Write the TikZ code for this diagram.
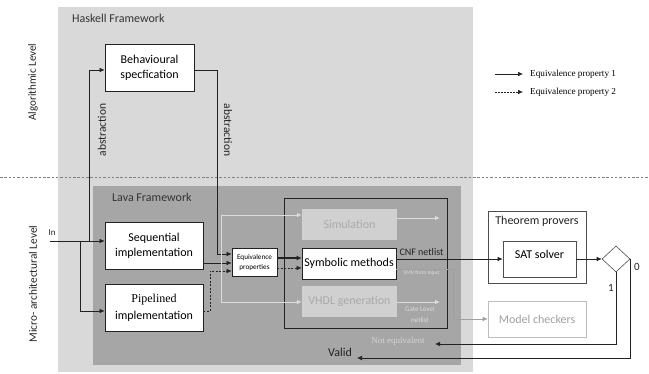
\documentclass[tikz,border=0pt]{standalone}
\usepackage{fontspec}
\setmainfont{Carlito}
\newfontfamily\serif{Liberation Serif}
\usetikzlibrary{arrows.meta,shapes.geometric}

\definecolor{panelA}{HTML}{D9D9D9}
\definecolor{panelB}{HTML}{A6A6A6}
\definecolor{ghostfill}{HTML}{D0D0D0}
\definecolor{ghosttext}{HTML}{AAAAAA}
\definecolor{ghostline}{HTML}{DCDCDC}
\definecolor{midgray}{HTML}{A0A0A0}
\definecolor{ink}{HTML}{222222}

\tikzset{
  tip/.style={-{Latex[length=5pt,width=4.5pt]}},
  conn/.style={draw=ink,line width=0.6pt,tip},
  dashconn/.style={conn,dash pattern=on 2pt off 1.5pt},
  ghostconn/.style={draw=ghostline,line width=0.8pt,-{Latex[length=5pt,width=4.5pt,fill=ghostline]}},
  plainbox/.style={draw=ink,fill=white,line width=0.7pt,inner sep=0pt,align=center,font=\fontsize{12}{14}\selectfont},
  ghostbox/.style={fill=ghostfill,draw=none,inner sep=0pt,align=center,text=ghosttext,font=\fontsize{12}{14}\selectfont},
  lbl/.style={inner sep=0pt,font=\fontsize{12}{14}\selectfont,text=ink}
}

\begin{document}
\begin{tikzpicture}[x=1pt,y=-1pt]
\useasboundingbox (0,0) rectangle (649,374);

% framework panels
\fill[panelA] (58,7) rectangle (473,372);
\fill[panelB] (93,186) rectangle (461,365);
\draw[ink,line width=0.6pt] (284,198) rectangle (447,328);

% level separator
\draw[gray,line width=0.6pt,dash pattern=on 2.5pt off 1.8pt] (0,177) -- (649,177);

% level and panel labels
\node[lbl,rotate=90,font=\fontsize{11}{13}\selectfont] (alglvl) at (33,82) {Algorithmic Level};
\node[lbl,rotate=90,font=\fontsize{11.3}{13}\selectfont] (microlvl) at (33,284) {Micro- architectural Level};
\node[lbl,anchor=west,text=black!80] (hask) at (72,18) {Haskell Framework};
\node[lbl,anchor=west,text=black!80] (lava) at (112,197) {Lava Framework};

% design boxes
\node[plainbox,minimum width=89pt,minimum height=47pt] (beh) at (149.5,67.5) {Behavioural\\[1pt]specfication};
\node[plainbox,minimum width=98pt,minimum height=47pt] (seq) at (154,245.5) {Sequential\\[1pt]implementation};
\node[plainbox,minimum width=98pt,minimum height=47pt] (pip) at (154,307.5) {{\serif\fontsize{12}{14}\selectfont Pipelined}\\[3pt]implementation};
\node[plainbox,minimum width=45pt,minimum height=28pt,font=\fontsize{7.2}{10}\selectfont] (eqv) at (254.5,262.5) {Equivalence\\properties};

% verification methods
\node[ghostbox,minimum width=95pt,minimum height=31pt] (sim) at (349.5,224.5) {Simulation};
\node[plainbox,minimum width=94pt,minimum height=31pt] (sym) at (349,263.5) {Symbolic methods};
\node[ghostbox,minimum width=95pt,minimum height=31pt] (vhdl) at (349.5,301.5) {VHDL generation};

\node[lbl,font=\fontsize{10}{11}\selectfont] (cnf) at (421.5,252.5) {CNF netlist};
\node[lbl,font=\fontsize{5.6}{6}\selectfont,text=ghostline] (smv) at (421.5,273.5) {SMV form input};
\node[lbl,font=\fontsize{7}{11}\selectfont,text=ghostline,align=center] (gate) at (420,314.5) {Gate Level\\netlist};

% back-end tools
\node[draw=ink!80,fill=white,line width=0.6pt,minimum width=98pt,minimum height=72pt,inner sep=0pt] (thm) at (537,247) {};
\node[lbl,anchor=north] (thmlbl) at (537,215.5) {Theorem provers};
\node[plainbox,draw=ink!80,minimum width=73pt,minimum height=36pt,text depth=10pt] (sat) at (539.5,259) {SAT solver};
\node[draw=midgray!70,fill=white,line width=0.6pt,minimum width=98pt,minimum height=36pt,inner sep=0pt,text=midgray,font=\fontsize{12}{14}\selectfont] (mc) at (537,319) {Model checkers};
\node[diamond,draw=ink!80,fill=white,line width=0.6pt,minimum width=28pt,minimum height=26pt,inner sep=0pt] (dia) at (616,259) {};
\node[lbl,font=\fontsize{11}{13}\selectfont] (zero) at (637,267) {0};
\node[lbl,font=\fontsize{11}{13}\selectfont] (one) at (611,288) {1};

% results
\node[inner sep=0pt,font=\serif\fontsize{9}{10}\selectfont,text=black!17] (noteq) at (398,341) {Not equivalent};
\node[lbl] (valid) at (340,352) {Valid};

% input
\node[lbl,font=\fontsize{9}{11}\selectfont] (inlbl) at (52,233) {In};
\coordinate (inpt) at (50,241);
\coordinate (ja) at (80,241);
\coordinate (jb) at (89,241);
\draw[conn] (inpt) -- (inpt -| seq.west);
\draw[conn] (ja) |- (pip.west |- 0,311);
\draw[conn] (jb) |- (beh.west |- 0,70);

% abstraction links
\coordinate (ab) at (217,254);
\draw[conn] (beh.east |- 0,70) -| (ab) -- (ab -| eqv.west);
\node[lbl,rotate=90,font=\fontsize{11.5}{13}\selectfont] (abs1) at (102,130) {abstraction};
\node[lbl,rotate=-90,font=\fontsize{11.5}{13}\selectfont] (abs2) at (228,130) {abstraction};

% implementations into the property box
\draw[conn] (seq.east |- 0,263) -- (eqv.west |- 0,263);
\coordinate (pb) at (210,271);
\draw[dashconn] (pip.east |- 0,311) -| (pb) -- (pb -| eqv.west);

% ghost flow through simulation and VHDL
\coordinate (g1) at (221,215);
\coordinate (g2) at (221,302);
\draw[draw=ghostline,line width=0.8pt] (g1) -- (g2);
\draw[ghostconn] (g1) -- (g1 -| sim.west);
\draw[ghostconn] (g2) -- (g2 -| vhdl.west);
\coordinate (simout) at (440,218);
\coordinate (vhdlout) at (440,302);
\draw[ghostconn] (sim.east |- simout) -- (simout);
\draw[ghostconn] (vhdl.east |- vhdlout) -- (vhdlout);

% equivalence properties into symbolic methods
\draw[conn,line width=1.5pt,-{Latex[length=5pt,width=5pt]}] (eqv.east |- 0,258) -- (sym.west |- 0,258);
\draw[dashconn] (eqv.east |- 0,268) -- (sym.west |- 0,268);

% symbolic methods to back ends
\draw[conn] (sat.west -| sym.east) -- (sat.west);
\coordinate (smvbend) at (453,269);
\draw[draw=midgray,line width=0.6pt,-{Latex[length=5pt,width=4.5pt]}] (sym.east |- smvbend) -- (smvbend) |- (mc.west);
\draw[conn] (sat.east) -- (dia.west);

% decision outcomes
\coordinate (noteqin) at (435,344);
\coordinate (validin) at (357,358);
\draw[conn] (dia.south) |- (noteqin);
\draw[conn] (dia.east) -- (dia.east |- validin) -- (validin);

% legend
\coordinate (l1a) at (495,74);
\coordinate (l1b) at (523,74);
\coordinate (l2a) at (495,92);
\coordinate (l2b) at (523,92);
\draw[conn] (l1a) -- (l1b);
\draw[conn,dash pattern=on 1.5pt off 1.5pt] (l2a) -- (l2b);
\node[anchor=west,inner sep=0pt,font=\serif\fontsize{9.2}{10}\selectfont] (leg1) at (530,74) {Equivalence property 1};
\node[anchor=west,inner sep=0pt,font=\serif\fontsize{9.2}{10}\selectfont] (leg2) at (530,92) {Equivalence property 2};
\end{tikzpicture}
\end{document}
